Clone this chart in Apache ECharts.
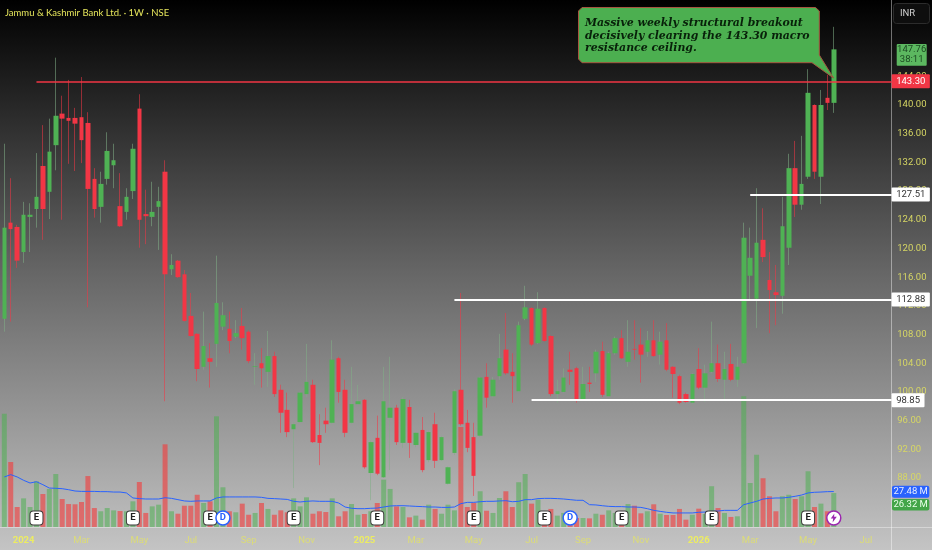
<!DOCTYPE html>
<html>
<head>
<meta charset="utf-8">
<style>html,body{margin:0;padding:0;background:#000}#c{width:932px;height:550px;filter:blur(0.35px)}</style>
<script src="https://cdn.jsdelivr.net/npm/echarts@6/dist/echarts.min.js"></script>
</head>
<body>
<div id="c"></div>
<script>
const opens=[110.2,123.6,123.0,119.5,124.4,125.5,131.5,127.9,134.4,138.8,138.2,138.2,138.3,137.5,129.7,125.8,129.7,131.6,125.9,125.1,128.0,139.5,124.8,124.4,125.8,130.7,117.1,118.3,116.4,110.6,108.1,103.5,104.7,106.7,109.1,108.8,107.7,109.2,108.4,103.5,104.0,102.8,105.0,100.3,97.5,94.8,95.8,99.7,101.0,94.0,96.0,95.7,104.7,100.3,95.7,98.3,98.9,88.7,93.6,88.1,96.4,97.8,92.9,97.9,92.6,94.7,90.5,95.5,90.5,87.2,91.5,100.3,95.7,93.7,93.9,102.1,99.4,102.2,105.9,102.8,100.1,110.2,111.7,106.8,111.7,107.8,99.7,100.0,103.1,103.3,99.0,101.3,102.6,105.7,99.4,105.4,107.5,104.2,106.0,106.6,105.6,107.2,105.2,107.2,103.5,102.2,99.7,98.5,103.2,100.6,102.8,104.0,101.7,103.9,101.7,104.0,116.2,113.0,121.2,115.6,113.9,113.4,120.1,131.2,126.1,130.0,140.0,130.0,141.0,140.3];
const closes=[122.9,122.7,118.3,124.7,124.7,127.2,125.5,133.5,138.5,138.1,137.8,137.4,135.1,128.3,125.5,129.0,133.6,132.3,123.1,127.2,133.9,124.0,124.5,125.1,126.6,116.4,117.7,116.0,109.9,107.8,103.2,106.4,104.2,112.4,110.7,107.1,108.2,107.5,104.3,103.6,103.3,105.0,99.7,97.1,94.4,95.5,99.9,101.4,93.0,92.9,95.5,104.5,100.0,94.3,98.3,98.7,89.5,93.0,88.6,98.7,97.8,93.0,99.0,92.9,94.3,89.1,94.4,90.4,93.7,89.5,100.1,95.5,92.2,88.3,102.0,99.2,101.7,104.7,102.6,102.2,109.3,111.8,106.6,111.6,107.1,99.7,100.1,102.0,102.8,99.0,101.1,101.1,105.6,99.6,105.4,107.5,104.7,105.6,105.9,105.2,107.2,105.0,107.0,103.1,102.5,98.5,98.6,102.5,100.6,102.6,104.0,101.8,103.2,101.7,103.5,121.5,118.7,120.8,118.8,114.2,113.5,123.1,131.2,126.1,129.0,141.7,130.7,140.0,140.3,147.76];
const lows=[108.4,109.8,117.3,118.0,119.5,122.9,121.2,124.1,130.9,124.0,131.8,130.8,131.9,111.8,124.3,123.6,128.9,128.4,123.0,124.0,126.9,120.1,120.6,123.1,119.8,98.7,116.3,115.9,109.8,107.7,101.5,103.1,100.6,103.5,108.6,105.4,107.5,105.9,104.0,101.0,100.6,100.7,99.3,94.3,93.7,86.6,95.7,99.3,92.9,89.8,94.3,95.5,98.5,93.7,95.5,98.2,89.3,84.9,88.4,88.0,89.1,92.6,92.2,90.8,92.3,88.8,90.2,89.4,90.4,87.1,91.2,95.3,91.6,85.5,93.7,97.8,99.2,101.7,102.4,98.5,100.0,110.0,106.4,106.7,107.0,99.4,98.5,99.9,101.0,98.5,98.9,100.0,101.4,99.3,99.3,105.2,104.6,103.5,104.5,101.3,104.9,104.9,103.8,102.9,99.2,98.3,98.5,98.3,100.4,98.6,102.6,101.4,98.7,101.5,100.7,103.9,112.8,108.9,118.1,108.2,109.3,110.9,117.7,124.4,125.4,129.7,129.7,126.2,139.3,138.9];
const highs=[134.6,129.8,123.3,126.5,126.3,133.3,137.2,138.1,146.6,141.3,143.5,139.6,143.9,139.0,131.2,130.7,136.2,134.6,130.5,128.4,134.6,141.5,128.2,129.3,128.6,132.3,119.2,118.4,117.0,113.8,108.2,111.2,106.8,119.0,112.5,111.2,110.0,111.7,108.6,105.4,106.1,108.5,105.6,101.0,99.9,95.8,100.0,106.7,101.7,96.9,97.8,107.2,104.9,101.7,103.5,101.0,99.0,93.2,96.7,103.5,104.9,98.2,99.3,98.9,94.4,96.5,94.6,97.1,93.9,89.6,100.4,113.8,97.5,95.7,102.1,104.0,102.1,108.1,111.0,105.4,109.8,114.8,111.8,113.9,111.8,107.9,101.7,103.3,105.6,103.5,103.5,103.5,105.9,107.0,105.6,107.7,108.6,110.0,110.0,108.9,108.5,110.0,108.4,109.6,103.6,102.4,99.9,102.6,106.1,103.8,109.8,106.6,105.6,106.7,104.9,123.6,122.9,128.4,125.6,119.5,117.7,127.2,133.2,135.0,135.7,145.0,140.1,142.1,144.2,150.9];
const volumes=[87.8,50.4,15.5,22.2,15.5,35.4,25.6,29.5,41.1,21.7,17.8,17.6,19.4,39.5,14.7,12.2,14.7,12.9,12.4,12.2,19.9,34.9,10.9,16,17.3,64.1,12.2,10.3,16.5,16.5,25,18.6,19.9,85.8,30.8,12.2,11.4,18.1,9.5,10.9,18.6,14,9.5,12.9,11.4,22.2,16,23,10.3,12.2,11.6,22.2,8.3,12.2,17.8,9.5,10.1,12.2,18.6,36.7,29.5,16,15.5,7.5,8.8,5.7,17.3,14,10.3,17.3,12.9,77.5,15.5,18.6,27.7,12.6,10.9,22.5,27.7,15.5,34.7,41.1,18.1,21.2,10.9,14,8.8,10.9,10.9,7,7,6.7,10.3,9.5,12.9,10.9,11.6,17.8,16.5,10.6,12.2,17.6,10.3,9.3,9.3,14,5.7,9.5,14.2,10.1,31.6,14.7,10.9,7.8,8.3,101.3,34.1,56,37.8,23.8,12.2,23.8,25,21.7,23.8,43.2,15.5,18.1,12.2,26.32];
const volumeMA=[38.8,40.6,38.8,36.2,34.1,35.1,32.8,30.2,30.0,29.7,28.9,27.9,27.6,27.6,27.6,27.4,27.4,27.1,27.1,26.4,22.5,22.0,21.7,21.7,21.7,22.7,22.2,21.2,20.2,19.9,20.2,20.2,20.2,22.5,23.3,23.3,23.3,23.3,23.3,23.3,23.0,22.2,22.0,21.7,21.4,19.9,19.4,19.9,20.2,19.9,19.9,19.9,18.6,15.5,14.5,14.2,14.2,14.5,14.7,15.5,16.3,16.5,16.5,16.3,16.0,15.8,15.5,15.5,15.2,15.2,15.5,18.1,19.1,19.1,19.6,19.9,19.9,20.2,20.4,19.6,19.9,21.2,21.2,22.0,22.2,22.2,22.0,21.7,21.2,20.7,20.7,17.3,17.1,16.5,16.0,15.8,15.8,15.5,15.5,15.2,14.2,12.9,12.1,11.4,10.9,10.9,10.9,10.9,11.4,11.6,12.1,12.4,12.9,12.9,12.9,17.3,18.6,19.9,21.7,22.2,22.5,22.5,23.0,23.8,24.8,26.4,26.9,27.1,27.4,27.48];
const timeSlots=139;
const monthTicks=[[3,'2024'],[12,'Mar'],[21,'May'],[29,'Jul'],[38,'Sep'],[47,'Nov'],[56,'2025'],[64,'Mar'],[73,'May'],[82,'Jul'],[90,'Sep'],[99,'Nov'],[108,'2026'],[116,'Mar'],[125,'May'],[134,'Jul']];
const priceTicks=[88,92,96,100,104,108,112,116,120,124,128,132,136,140,144];
const levels=[[5,143.30,'143.30','#f23645','#ffffff',1.5],[116,127.51,'127.51','#ffffff','#333333',2],[70,112.88,'112.88','#ffffff','#333333',2],[82,98.85,'98.85','#ffffff','#333333',2]];
const earningsAt=[5,20,32,45,58,73,84,96,110,125];
const dividendAt=[34,88];
const alertAt=[129];
const noteLines=['Massive weekly structural breakout','decisively clearing the 143.30 macro','resistance ceiling.'];

const UP='#4fb254',DOWN='#f23645';
const categories=Array.from({length:timeSlots},()=>({value:''}));
monthTicks.forEach(([i,t])=>{
  const isYear=/^\d+$/.test(t);
  categories[i]={value:t,textStyle:isYear?{fontWeight:'bold',color:'#ecec62'}:{color:'#dcdc78'}};
});
const full=opens.map((o,i)=>[o,closes[i],lows[i],highs[i]]);
const bodies=opens.map((o,i)=>[o,closes[i],Math.min(o,closes[i]),Math.max(o,closes[i])]);
const gridH=527;
const chart=echarts.init(document.getElementById('c'),null,{renderer:'canvas'});
function tag(y,h,x,w,fill,text,color){
  return [{type:'rect',z:100,shape:{x:x,y:y,width:w,height:h,r:2},style:{fill:fill}},
    {type:'text',z:101,style:{x:x+w/2,y:y+h/2,text:text,fill:color,font:'9.5px Roboto',align:'center',verticalAlign:'middle'}}];
}
chart.setOption({
  animation:false,
  backgroundColor:{type:'linear',x:0,y:0,x2:0,y2:1,colorStops:[{offset:0,color:'#000000'},{offset:0.5,color:'#676767'},{offset:1,color:'#c4c4c4'}]},
  title:{text:'Jammu & Kashmir Bank Ltd. · 1W · NSE',left:5,top:8,padding:0,textStyle:{color:'#e6e65c',fontSize:9.5,fontWeight:'normal',fontFamily:'Lato'}},
  grid:{left:1.1,top:0,width:893.77,height:gridH,containLabel:false},
  xAxis:{type:'category',data:categories,boundaryGap:true,
    axisLine:{show:false},axisTick:{show:false},splitLine:{show:false},
    axisLabel:{margin:9,fontSize:9.5,fontFamily:'Roboto',interval:(i,v)=>v!=='',hideOverlap:false}},
  yAxis:[
    {type:'value',position:'right',offset:-3.4,min:81.17,max:154.64,scale:true,
     axisLine:{show:false},axisTick:{show:false},splitLine:{show:false},
     axisLabel:{customValues:priceTicks,margin:5.8,color:'#d6d664',fontSize:9.5,fontFamily:'Roboto',formatter:v=>v.toFixed(2),showMinLabel:true,showMaxLabel:true}},
    {type:'value',min:0,max:408.5,show:false}
  ],
  series:[
    {name:'Volume',type:'bar',yAxisIndex:1,barWidth:5,z:1,data:volumes,
     itemStyle:{color:p=>closes[p.dataIndex]>=opens[p.dataIndex]?'rgba(76,175,80,0.55)':'rgba(242,60,60,0.62)'}},
    {name:'Volume MA',type:'line',yAxisIndex:1,data:volumeMA,z:2,showSymbol:false,symbol:'none',lineStyle:{color:'#2962ff',width:1}},
    {name:'Wicks',type:'candlestick',barWidth:1,z:3,data:full,
     itemStyle:{color:'rgba(76,175,80,0)',color0:'rgba(242,54,69,0)',borderColor:'rgba(130,175,135,0.55)',borderColor0:'rgba(242,54,69,0.55)',borderWidth:1}},
    {name:'Price',type:'candlestick',barWidth:5,z:4,data:bodies,
     itemStyle:{color:UP,color0:DOWN,borderColor:UP,borderColor0:DOWN,borderWidth:0},
     markLine:{silent:true,symbol:'none',animation:false,precision:2,z:10,
       data:levels.map(([start,v,txt,col,tc,w])=>[
         {coord:[start,v],lineStyle:{color:col,width:w,type:'solid'},
          label:{show:true,position:'end',distance:0,formatter:txt,color:tc,backgroundColor:col,fontSize:9.5,fontFamily:'Roboto',padding:[2,4.5,2,4.5],borderRadius:1}},
         {coord:[timeSlots-1,v]}])}},
    {name:'Earnings',type:'scatter',yAxisIndex:1,z:6,symbol:'roundRect',symbolSize:[13,14],data:earningsAt.map(i=>[i,7]),
     itemStyle:{color:'#ffffff',borderColor:'#3a3a3a',borderWidth:1,opacity:1},
     label:{show:true,position:'inside',formatter:'E',color:'#222222',fontSize:9.5,fontWeight:'bold',fontFamily:'Roboto'}},
    {name:'Dividends',type:'scatter',yAxisIndex:1,z:6,symbol:'circle',symbolSize:14,data:dividendAt.map(i=>[i,7]),
     itemStyle:{color:'#ffffff',borderColor:'#2962ff',borderWidth:1.5,opacity:1},
     label:{show:true,position:'inside',formatter:'D',color:'#2962ff',fontSize:9.5,fontWeight:'bold',fontFamily:'Roboto'}},
    {name:'Alert',type:'scatter',yAxisIndex:1,z:6,symbol:'circle',symbolSize:14,data:alertAt.map(i=>[i,7]),
     itemStyle:{color:'#ffffff',borderColor:'#9c27b0',borderWidth:1.5,opacity:1}},
    {name:'AlertBolt',type:'scatter',yAxisIndex:1,z:7,symbol:'path://M6 0 L0 9 H4 L3 16 L10 6 H5.5 Z',symbolSize:[6,9],data:alertAt.map(i=>[i,7]),
     itemStyle:{color:'#9c27b0',opacity:1}}
  ],
  graphic:{elements:[
    {type:'line',z:1,silent:true,shape:{x1:891.5,y1:0,x2:891.5,y2:550},style:{stroke:'rgba(255,255,255,0.42)',lineWidth:1}},
    {type:'line',z:1,silent:true,shape:{x1:0,y1:527.5,x2:932,y2:527.5},style:{stroke:'rgba(255,255,255,0.38)',lineWidth:1}},
    {type:'rect',z:100,shape:{x:893.5,y:3.5,width:36,height:20,r:3},style:{fill:'#0e0e0e',stroke:'#2c2c2c',lineWidth:1}},
    {type:'text',z:101,style:{x:900,y:13.5,text:'INR',fill:'#d0d0d0',font:'9.5px Roboto',verticalAlign:'middle'}},
    {type:'rect',z:100,shape:{x:896.7,y:44,width:30,height:21.7,r:1},style:{fill:'#5cb860'}},
    {type:'text',z:101,style:{x:911.7,y:49.6,text:'147.76',fill:'#1c4a22',font:'9.5px Roboto',align:'center',verticalAlign:'middle'}},
    {type:'text',z:101,style:{x:911.7,y:60,text:'38:11',fill:'#1c4a22',font:'9.5px Roboto',align:'center',verticalAlign:'middle'}},
    ...tag(485.7,12,892,37.3,'#2962ff','27.48 M','#e8eeff'),
    ...tag(499,11.5,892,37.3,'#43a548','26.32 M','#e8ffe8'),
    {type:'polygon',z:50,shape:{points:[[582,7.5],[815.5,7.5],[819.3,11],[819.3,55],[833.5,78],[812,62.7],[582,62.7],[578.5,59],[578.5,11]]},style:{fill:'#4caf50',stroke:'#a5553f',lineWidth:1}},
    ...noteLines.map((t,i)=>({type:'text',z:51,style:{x:585,y:23+i*12.8,text:t,fill:'#08210a',font:'italic bold 10.9px "DejaVu Serif"',verticalAlign:'middle'}}))
  ]}
});
</script>
</body>
</html>
